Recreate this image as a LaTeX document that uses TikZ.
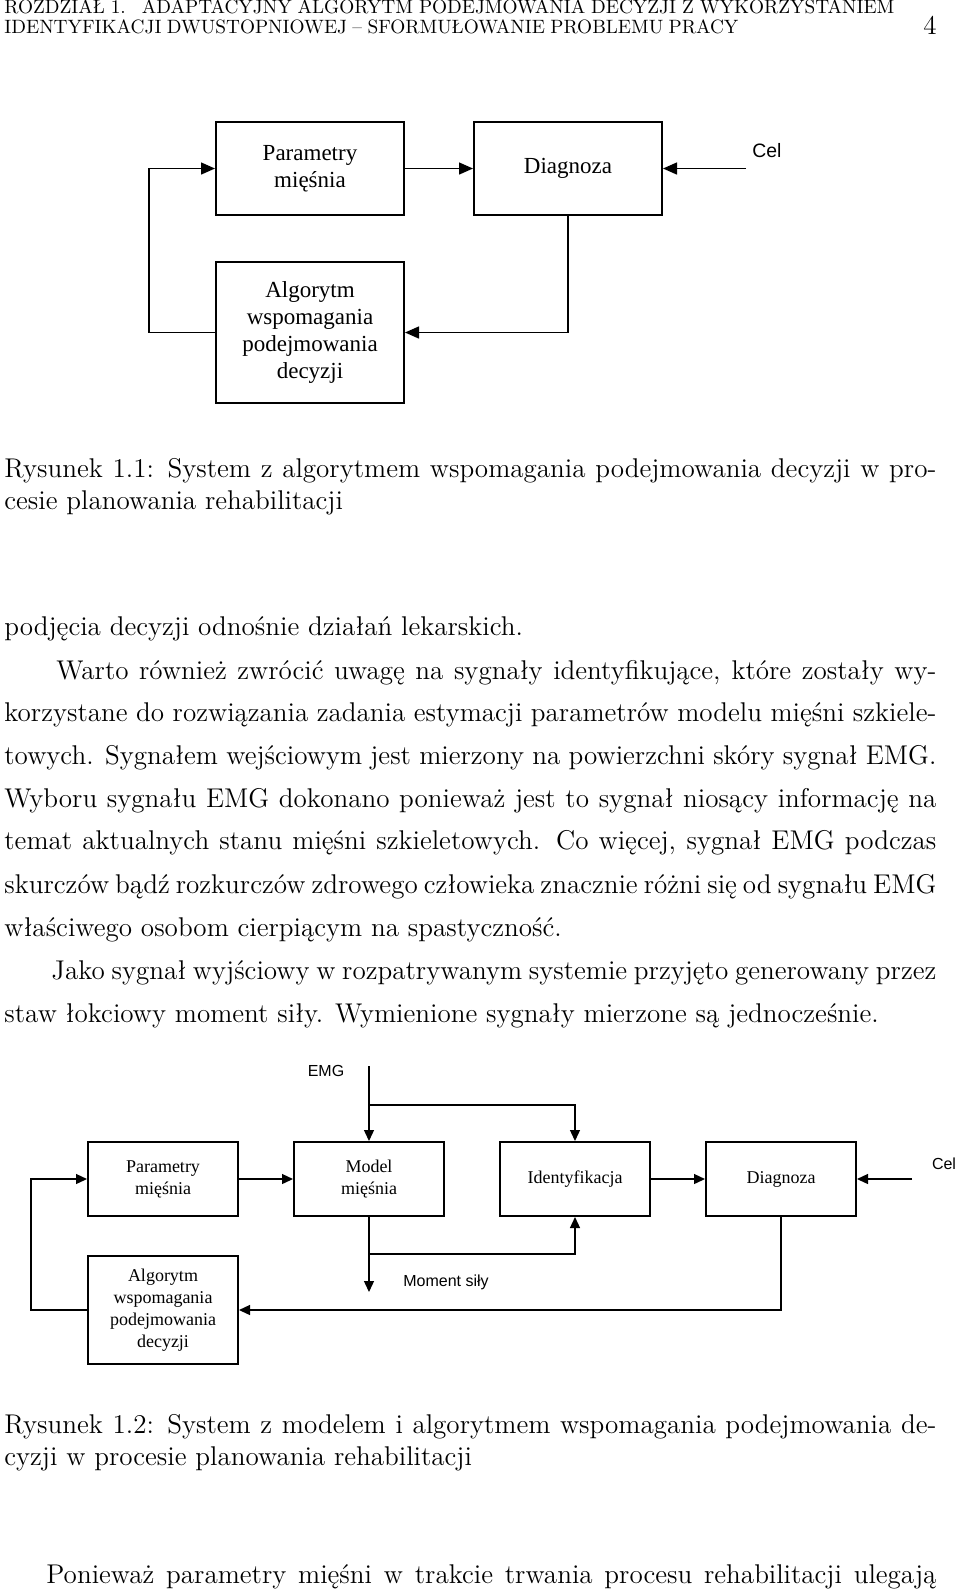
\documentclass[tikz,border=0pt]{standalone}
\usepackage{fontspec}
\newfontfamily\tms{Liberation Serif}
\newfontfamily\arl{Liberation Sans}
\usetikzlibrary{arrows.meta}
\newcommand\BodyF{\fontsize{13.55}{16}\selectfont}
\newcommand\HeadF{\fontsize{9.65}{12}\selectfont}
\tikzset{
  txt/.style={anchor=base west, inner sep=0pt, font=\BodyF},
  boxA/.style={draw, line width=1pt, inner sep=0pt, minimum width=94pt, align=center, font=\tms\fontsize{11.5}{13.6}\selectfont},
  boxB/.style={draw, line width=1pt, inner sep=0pt, minimum width=75pt, minimum height=37pt, align=center, font=\tms\fontsize{9}{11}\selectfont},
  arrA/.style={-{Triangle[length=7pt,width=6pt]}, line width=0.7pt},
  arrB/.style={-{Triangle[length=5.5pt,width=5pt]}, line width=0.65pt},
  lblA/.style={inner sep=0pt, font=\arl\fontsize{9.7}{11}\selectfont},
  lblB/.style={inner sep=0pt, font=\arl\fontsize{8}{10}\selectfont}
}
\begin{document}
\begin{tikzpicture}[x=0.5pt,y=-0.5pt]
\useasboundingbox (0,0) rectangle (960,1592);
% header
\node[txt, font=\HeadF] (h1) at (4,13.5) {\makebox[445pt][s]{ROZDZIAŁ 1.\hspace{0.4em} ADAPTACYJNY ALGORYTM PODEJMOWANIA DECYZJI Z WYKORZYSTANIEM}};
\node[txt, font=\HeadF] (h2) at (4,33.5) {\makebox[367pt][s]{IDENTYFIKACJI DWUSTOPNIOWEJ – SFORMUŁOWANIE PROBLEMU PRACY}};
\node[anchor=base east, inner sep=0pt, font=\BodyF] (pg) at (937,34) {4};

% figure 1
\node[boxA, minimum height=46.5pt] (par1) at (310,168.5) {Parametry\\mięśnia};
\node[boxA, minimum height=46.5pt] (diag1) at (568,168.5) {Diagnoza};
\node[boxA, minimum height=70.5pt] (alg1) at (310,332.5) {Algorytm\\wspomagania\\podejmowania\\decyzji};
\node[lblA] (cel1) at (767,151) {Cel};
\coordinate (cel1s) at (746,168.5);
\coordinate (l1) at (149,250);
\draw[arrA] (par1) -- (diag1);
\draw[arrA] (cel1s) -- (diag1.east);
\draw[arrA] (diag1.south) |- (alg1.east);
\draw[arrA] (alg1.west) -| (l1) |- (par1.west);

% caption 1
\node[txt] (c1a) at (4,477) {\makebox[466pt][s]{Rysunek 1.1: System z algorytmem wspomagania podejmowania decyzji w pro-}};
\node[txt] (c1b) at (4,509) {cesie planowania rehabilitacji};

% body
\node[txt] (b1) at (4,635) {podjęcia decyzji odnośnie działań lekarskich.};
\node[txt] (b2) at (56,679) {\makebox[440pt][s]{Warto również zwrócić uwagę na sygnały identyfikujące, które zostały wy-}};
\node[txt] (b3) at (4,721) {\makebox[466pt][s]{korzystane do rozwiązania zadania estymacji parametrów modelu mięśni szkiele-}};
\node[txt] (b4) at (4,764) {\makebox[466pt][s]{towych. Sygnałem wejściowym jest mierzony na powierzchni skóry sygnał EMG.}};
\node[txt] (b5) at (4,807) {\makebox[466pt][s]{Wyboru sygnału EMG dokonano ponieważ jest to sygnał niosący informację na}};
\node[txt] (b6) at (4,849) {\makebox[466pt][s]{temat aktualnych stanu mięśni szkieletowych. Co więcej, sygnał EMG podczas}};
\node[txt] (b7) at (4,893) {\makebox[466pt][s]{skurczów bądź rozkurczów zdrowego człowieka znacznie różni się od sygnału EMG}};
\node[txt] (b8) at (4,936) {właściwego osobom cierpiącym na spastyczność.};
\node[txt] (b9) at (51,979) {\makebox[442.5pt][s]{Jako sygnał wyjściowy w rozpatrywanym systemie przyjęto generowany przez}};
\node[txt] (b10) at (4,1022) {staw łokciowy moment siły. Wymienione sygnały mierzone są jednocześnie.};

% figure 2
\node[boxB] (par2) at (163,1179) {Parametry\\mięśnia};
\node[boxB] (model) at (369,1179) {Model\\mięśnia};
\node[boxB] (ident) at (575,1179) {Identyfikacja};
\node[boxB] (diag2) at (781,1179) {Diagnoza};
\node[boxB, minimum height=54pt] (alg2) at (163,1310) {Algorytm\\wspomagania\\podejmowania\\decyzji};
\node[lblB] (emg) at (326,1071) {EMG};
\node[lblB] (mom) at (446,1282) {Moment siły};
\node[lblB] (cel2) at (944,1164) {Cel};
\coordinate (emgtop) at (369,1066);
\coordinate (emgb) at (369,1105);
\coordinate (mend) at (369,1292);
\coordinate (mb) at (369,1254);
\coordinate (cel2s) at (912,1179);
\coordinate (l2) at (31,1240);
\draw[arrB] (emgtop) -- (model.north);
\draw[arrB] (emgb) -| (ident.north);
\draw[arrB] (model.south) -- (mend);
\draw[arrB] (mb) -| (ident.south);
\draw[arrB] (par2) -- (model);
\draw[arrB] (ident) -- (diag2);
\draw[arrB] (cel2s) -- (diag2.east);
\draw[arrB] (diag2.south) |- (alg2.east);
\draw[arrB] (alg2.west) -| (l2) |- (par2.west);

% caption 2
\node[txt] (c2a) at (4,1433) {\makebox[466pt][s]{Rysunek 1.2: System z modelem i algorytmem wspomagania podejmowania de-}};
\node[txt] (c2b) at (4,1465) {cyzji w procesie planowania rehabilitacji};

% last line
\node[txt] (last) at (46,1583) {\makebox[445pt][s]{Ponieważ parametry mięśni w trakcie trwania procesu rehabilitacji ulegają}};
\end{tikzpicture}
\end{document}
